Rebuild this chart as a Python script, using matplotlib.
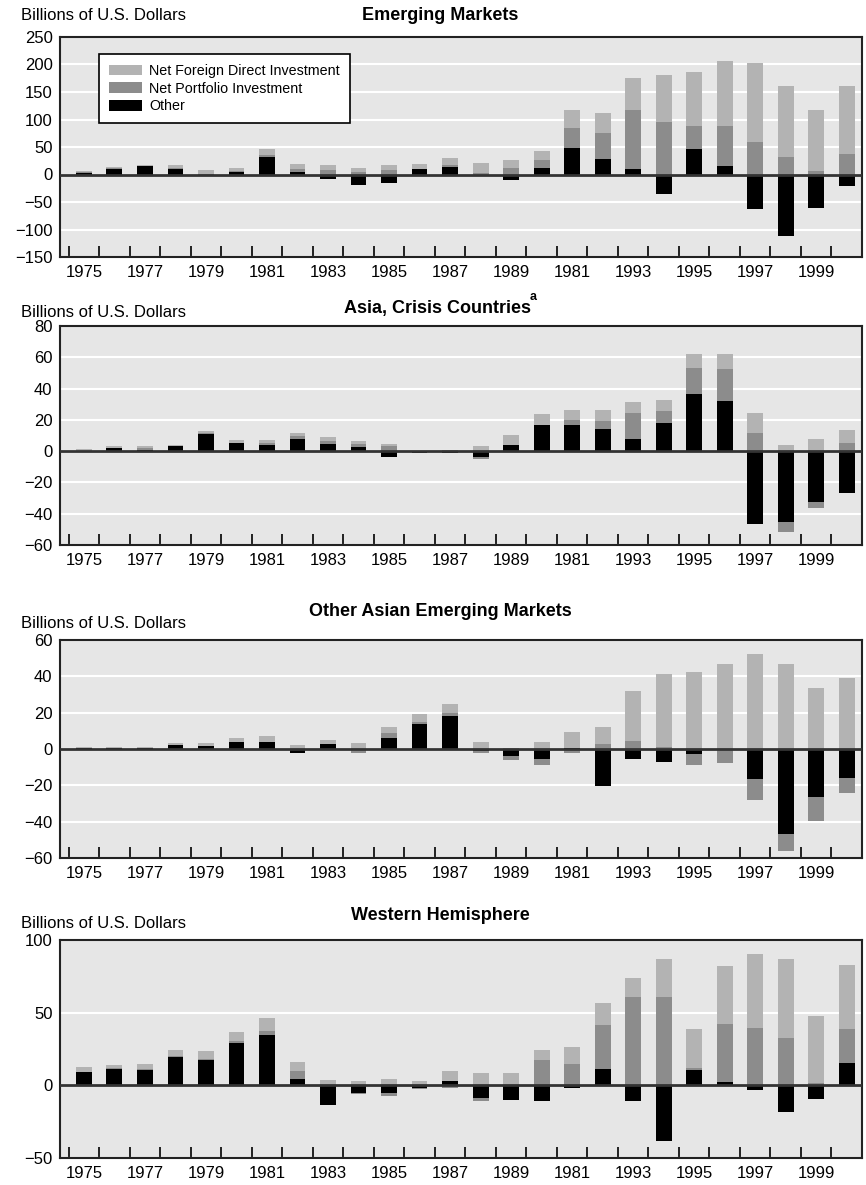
import matplotlib
matplotlib.use("Agg")
import matplotlib.pyplot as plt
import numpy as np

plt.rcParams['font.family'] = ['Liberation Sans', 'DejaVu Sans']

years = np.arange(1975, 2001)
tick_years = np.arange(1975, 2001, 2)
tick_labels = ['1975', '1977', '1979', '1981', '1983', '1985', '1987',
               '1989', '1981', '1993', '1995', '1997', '1999']
series_names = ['Net Foreign Direct Investment', 'Net Portfolio Investment',
                'Other']

# Emerging Markets
em_other = [3, 10, 15, 10, -1, 4, 32, 4, -8, -19, -15, 10, 13, 0, -10, 12,
            49, 29, 10, -36, 47, 15, -62, -111, -61, -21]
em_port = [1, 1, 1, 1, 1, 2, 4, 6, 9, 4, 9, 0, 5, 2, 12, 14, 35, 46, 107,
           96, 41, 73, 59, 32, 7, 38]
em_fdi = [3, 3, 2, 6, 8, 6, 10, 10, 8, 8, 8, 10, 12, 18, 14, 17, 33, 36, 58,
          85, 98, 118, 143, 129, 110, 123]

# Asia, crisis countries
ac_other = [-0.5, 2, 1, 3, 11, 5, 3.7, 8, 4.3, 2.4, -4, -1.5, -1, -3.5, 3.7,
            17, 16.5, 14, 7.5, 18, 36.6, 32, -46.7, -45, -32.5, -26.5]
ac_port = [0, 0, 1, 0, 0.5, 0.5, 1.3, 1.5, 2, 2, 3, 0, 0, -1.3, 0.5, 0, 3.3,
           5, 17, 7.5, 16.7, 20.7, 11.4, -7, -4, 5]
ac_fdi = [1.5, 1, 1, 1, 1.5, 1.5, 2, 2, 2.5, 2, 1.5, 0, 1, 3, 5.8, 6.5, 6.5,
          7, 7, 7, 9, 9.7, 13, 4, 7.5, 8.3]

# Other Asian emerging markets
oa_other = [0.7, 0.7, 0.7, 2.4, 1.9, 4, 4, -2, 3, 0, 6.3, 13.5, 18, -1, -3.7,
            -5.4, 0.5, -20.4, -5.4, -7, -2.6, 0, -16.5, -47, -26.5, -16]
oa_port = [0, 0, 0, 0, 0, 0, 0, 0, 0, -2, 2.7, 1.1, 1.6, -1, -2.2, -3.3, -2,
           3, 4.6, 1.3, -6.1, -7.6, -11.7, -8.9, -13.3, -8.3]
oa_fdi = [0.3, 0.3, 0.3, 1, 1.6, 2.3, 2.9, 2.4, 2.2, 3.5, 2.9, 4.4, 5, 4, 0.7,
          4, 9.1, 8.9, 27.3, 40, 42.4, 46.9, 52.4, 46.9, 33.5, 39]

# Western Hemisphere
wh_other = [9, 11, 10.6, 19.3, 17.2, 29, 34.5, 4.1, -13.8, -5.5, -5.5, -1.5,
            2.8, -9, -10.3, -11, -1.8, 11, -11, -38.6, 10.3, 2, -3.4, -18.6,
            -9.7, 15.2]
wh_port = [0, 0.7, 0.7, 0.7, 1, 1.3, 2.7, 5.6, 0, -0.7, -2, -1, -2, -2, 0,
           17.2, 14.5, 30.4, 61, 61, 1.4, 40, 39.3, 32.4, 1.4, 23.4]
wh_fdi = [3.4, 2.1, 3.2, 4.1, 5.2, 6.3, 9, 6.2, 3.4, 2.8, 4.1, 2.8, 6.9, 8.3,
          8.3, 6.9, 11.7, 15, 12.6, 25.7, 26.8, 40, 51, 54.5, 46.2, 44.2]

panels = [
    ("Emerging Markets", em_other, em_port, em_fdi, (-150, 250), 50),
    ("Asia, Crisis Countries", ac_other, ac_port, ac_fdi, (-60, 80), 20),
    ("Other Asian Emerging Markets", oa_other, oa_port, oa_fdi, (-60, 60), 20),
    ("Western Hemisphere", wh_other, wh_port, wh_fdi, (-50, 100), 50),
]

# axes boxes in pixels: (top, bottom), and title / unit label y positions
boxes = [(37, 257), (326, 545), (640, 858), (940, 1158)]
title_y = [15, 308, 611, 916]
unit_y = [15, 312, 624, 924]

colors = {'fdi': '#b3b3b3', 'port': '#8c8c8c', 'other': 'black'}
W, H = 866.0, 1185.0
left, right = 59.5, 862.0

fig = plt.figure(figsize=(8.66, 11.85), dpi=100)

for i, (title, other, port, fdi, ylim, step) in enumerate(panels):
    top, bot = boxes[i]
    ax = fig.add_axes([left / W, 1 - bot / H, (right - left) / W,
                       (bot - top) / H])
    ax.set_facecolor('#e6e6e6')

    pos = np.zeros(len(years))
    neg = np.zeros(len(years))
    handles = []
    for vals, key in [(other, 'other'), (port, 'port'), (fdi, 'fdi')]:
        v = np.array(vals, dtype=float)
        bottom = np.where(v >= 0, pos, neg)
        b = ax.bar(years, v, 0.52, bottom=bottom, color=colors[key],
                   linewidth=0, zorder=2)
        handles.append(b)
        pos = pos + np.where(v >= 0, v, 0)
        neg = neg + np.where(v < 0, v, 0)

    ax.axhline(0, color='#333333', lw=2, zorder=3)
    ax.set_ylim(ylim)
    ax.set_xlim(1974.2, 2000.5)
    ax.set_yticks(np.arange(ylim[0], ylim[1] + 1, step))
    ax.yaxis.grid(True, color='white', lw=1.5, zorder=0)
    ax.set_axisbelow(True)
    ax.tick_params(axis='y', length=0, labelsize=12, pad=5)

    ax.set_xticks(tick_years)
    ax.set_xticklabels(tick_labels)
    ax.set_xticks(np.arange(1974.5, 2000, 1), minor=True)
    ax.tick_params(axis='x', which='major', length=0, labelsize=12, pad=6)
    ax.tick_params(axis='x', which='minor', direction='in', length=8,
                   width=1.2, color='black')

    for s in ax.spines.values():
        s.set_color('#222222')
        s.set_linewidth(1.5)

    fig.text(21 / W, 1 - unit_y[i] / H, "Billions of U.S. Dollars",
             fontsize=12, va='center', ha='left')
    if i == 1:
        fig.text(437 / W, 1 - title_y[i] / H, title, fontsize=13,
                 fontweight='bold', va='center', ha='center')
        fig.text(530 / W, 1 - 297 / H, "a", fontsize=9, fontweight='bold',
                 va='center', ha='left')
    else:
        fig.text(440 / W, 1 - title_y[i] / H, title, fontsize=13,
                 fontweight='bold', va='center', ha='center')

    if i == 0:
        leg = ax.legend(handles[::-1], series_names, loc='upper left',
                        bbox_to_anchor=(0.049, 0.923), borderaxespad=0,
                        fontsize=10.3, frameon=True, fancybox=False,
                        edgecolor='black', framealpha=1, handlelength=2.3,
                        handleheight=0.8, labelspacing=0.25, borderpad=0.7,
                        handletextpad=0.5)
        leg.get_frame().set_linewidth(1.2)

fig.savefig("out.png", dpi=100)
